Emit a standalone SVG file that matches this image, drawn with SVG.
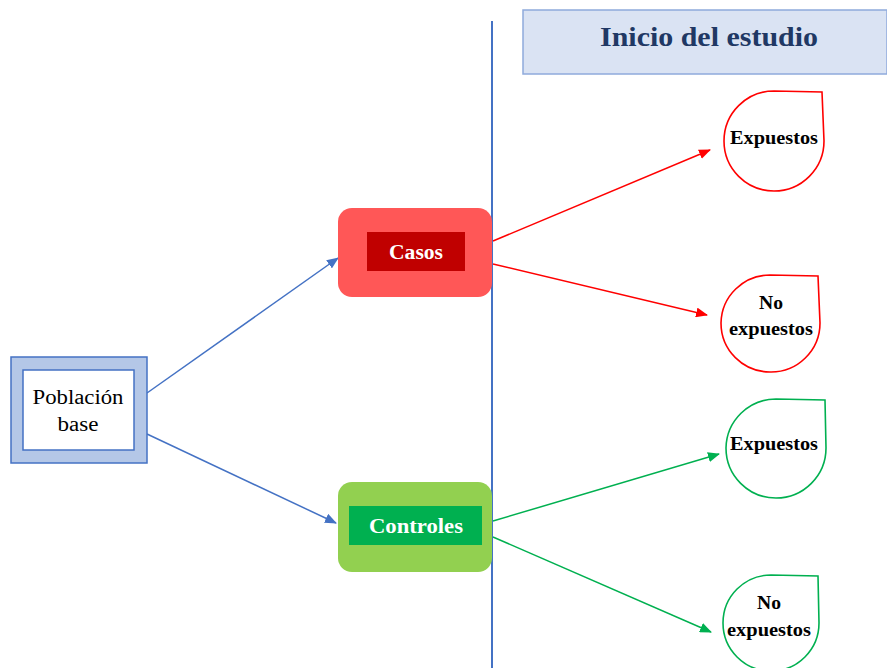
<svg xmlns="http://www.w3.org/2000/svg" width="887" height="668" viewBox="0 0 887 668">
<style>
.t{font-family:"Liberation Serif","Times New Roman",serif;text-anchor:middle}
.b{font-weight:bold}
.drop{fill:#fff;stroke-width:1.6}
</style>
<defs>
<marker id="ab" markerUnits="userSpaceOnUse" markerWidth="12" markerHeight="10" refX="11" refY="5" orient="auto"><path d="M0,0 L12,5 L0,10 Z" fill="#4472C4"/></marker>
<marker id="ar" markerUnits="userSpaceOnUse" markerWidth="12" markerHeight="10" refX="11" refY="5" orient="auto"><path d="M0,0 L12,5 L0,10 Z" fill="#FF0000"/></marker>
<marker id="ag" markerUnits="userSpaceOnUse" markerWidth="12" markerHeight="10" refX="11" refY="5" orient="auto"><path d="M0,0 L12,5 L0,10 Z" fill="#00B050"/></marker>
</defs>
<rect width="887" height="668" fill="#fff"/>
<g id="connectors" fill="none" stroke-width="1.5">
<line x1="492" y1="21" x2="492" y2="668" stroke="#4472C4" stroke-width="2"/>
<line x1="147" y1="393" x2="338" y2="258" stroke="#4472C4" marker-end="url(#ab)"/>
<line x1="147" y1="434" x2="336" y2="523" stroke="#4472C4" marker-end="url(#ab)"/>
<line x1="493" y1="241" x2="710" y2="150" stroke="#FF0000" marker-end="url(#ar)"/>
<line x1="493" y1="264" x2="707" y2="315" stroke="#FF0000" marker-end="url(#ar)"/>
<line x1="493" y1="521" x2="719" y2="454" stroke="#00B050" marker-end="url(#ag)"/>
<line x1="493" y1="537" x2="711" y2="632" stroke="#00B050" marker-end="url(#ag)"/>
</g>
<g id="inicio">
<rect x="523" y="10" width="364" height="64" fill="#DAE3F3" stroke="#8FAADC" stroke-width="1.5"/>
<text class="t b" x="709" y="46" font-size="28" fill="#203864" textLength="218" lengthAdjust="spacingAndGlyphs">Inicio del estudio</text>
</g>
<g id="poblacion">
<rect x="11" y="357" width="136" height="106" fill="#B4C7E7" stroke="#4472C4" stroke-width="1.5"/>
<rect x="23" y="370" width="111" height="80" fill="#fff" stroke="#4472C4" stroke-width="1.5"/>
<text class="t" x="78" y="404" font-size="20" textLength="91" lengthAdjust="spacingAndGlyphs">Población</text>
<text class="t" x="78" y="431" font-size="20" textLength="41" lengthAdjust="spacingAndGlyphs">base</text>
</g>
<g id="casos">
<rect x="338" y="208" width="154" height="89" rx="14" fill="#FF5757"/>
<rect x="367" y="232" width="98" height="39" fill="#C00000"/>
<text class="t b" x="416" y="259" font-size="20" fill="#fff" textLength="54" lengthAdjust="spacingAndGlyphs">Casos</text>
</g>
<g id="controles">
<rect x="338" y="482" width="154" height="90" rx="14" fill="#92D050"/>
<rect x="349" y="506" width="133" height="39" fill="#00B050"/>
<text class="t b" x="416" y="533" font-size="20" fill="#fff" textLength="94" lengthAdjust="spacingAndGlyphs">Controles</text>
</g>
<g id="casos-expuestos">
<path class="drop" stroke="#FF0000" d="M774,91 L822,92 L824,141 A50,50 0 0 1 774,191 A50,50 0 0 1 724,141 A50,50 0 0 1 774,91 Z"/>
<text class="t b" x="774" y="144" font-size="18" textLength="88" lengthAdjust="spacingAndGlyphs">Expuestos</text>
</g>
<g id="casos-no-expuestos">
<path class="drop" stroke="#FF0000" d="M770,275 L818,276 L820,323 A49,49 0 0 1 770,372 A49,49 0 0 1 721,323 A49,49 0 0 1 770,275 Z"/>
<text class="t b" x="771" y="309" font-size="18" textLength="24" lengthAdjust="spacingAndGlyphs">No</text>
<text class="t b" x="771" y="335" font-size="18" textLength="84" lengthAdjust="spacingAndGlyphs">expuestos</text>
</g>
<g id="controles-expuestos">
<path class="drop" stroke="#00B050" d="M776,399 L825,400 L826,448 A50,50 0 0 1 776,498 A50,50 0 0 1 726,448 A50,50 0 0 1 776,399 Z"/>
<text class="t b" x="774" y="450" font-size="18" textLength="88" lengthAdjust="spacingAndGlyphs">Expuestos</text>
</g>
<g id="controles-no-expuestos">
<path class="drop" stroke="#00B050" d="M771,575 L818,576 L819,623 A48,48 0 0 1 771,671 A48,48 0 0 1 723,623 A48,48 0 0 1 771,575 Z"/>
<text class="t b" x="769" y="609" font-size="18" textLength="24" lengthAdjust="spacingAndGlyphs">No</text>
<text class="t b" x="769" y="636" font-size="18" textLength="84" lengthAdjust="spacingAndGlyphs">expuestos</text>
</g>
</svg>
